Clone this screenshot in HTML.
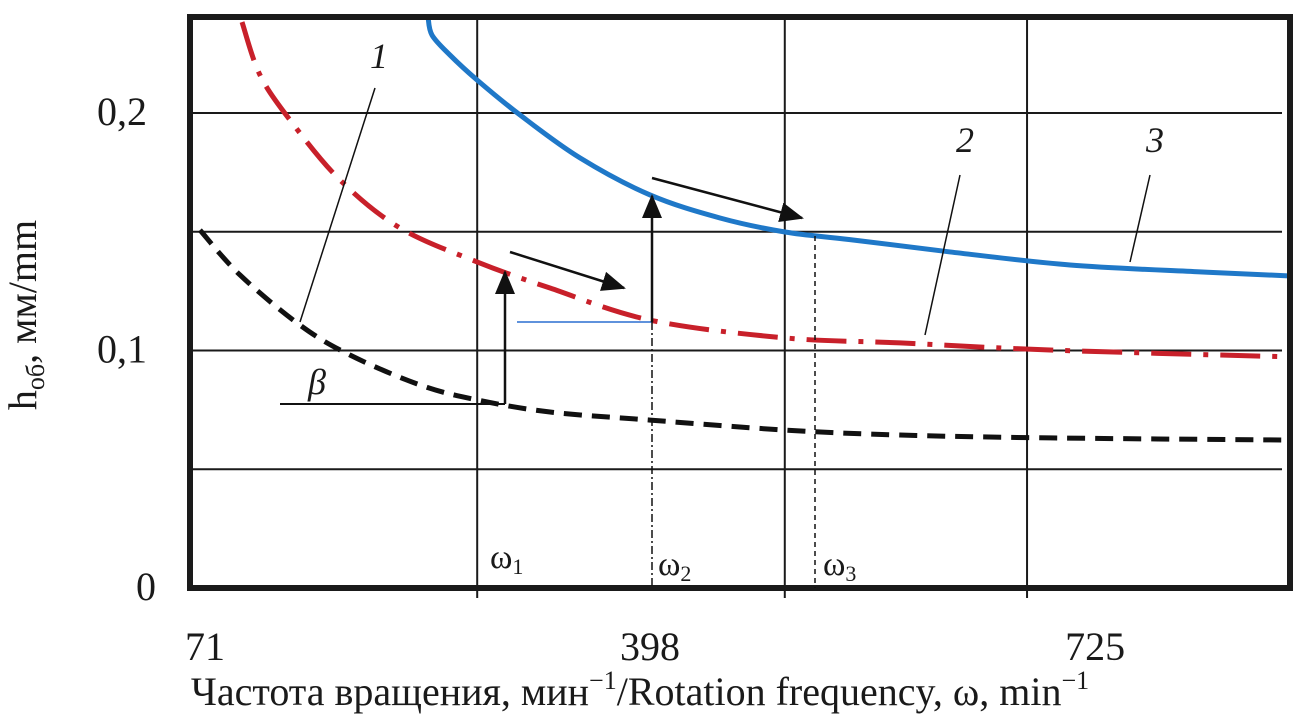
<!DOCTYPE html>
<html><head><meta charset="utf-8"><style>
body{margin:0;background:#fff}
svg text{font-family:"Liberation Serif",serif;fill:#1a1a1a}
</style></head><body>
<svg width="1311" height="717" viewBox="0 0 1311 717">
<defs><clipPath id="pa"><rect x="193" y="20" width="1095" height="565"/></clipPath>
<marker id="ah2" markerWidth="24" markerHeight="20" refX="22" refY="10" orient="auto" markerUnits="userSpaceOnUse" viewBox="0 0 24 20"><path d="M0,0 L24,10 L0,20 z" fill="#111"/></marker></defs>
<g id="grid"></g>
<g id="curves" clip-path="url(#pa)"></g>
<rect x="190" y="17" width="1100" height="571" fill="none" stroke="#1a1a1a" stroke-width="6"/>
<g stroke="#111" fill="none">
<line x1="280" y1="404" x2="505" y2="404" stroke-width="2"/>
<line x1="505" y1="404" x2="505" y2="272" stroke-width="2.5" marker-end="url(#ah2)"/>
<line x1="517" y1="322" x2="652" y2="322" stroke="#2a6fd0" stroke-width="1.5"/>
<line x1="652" y1="322" x2="652" y2="196" stroke-width="2.5" marker-end="url(#ah2)"/>
<line x1="510" y1="252" x2="624" y2="288" stroke-width="2.5" marker-end="url(#ah2)"/>
<line x1="652" y1="178" x2="802" y2="218" stroke-width="2.5" marker-end="url(#ah2)"/>
<line x1="652" y1="322" x2="652" y2="588" stroke-width="1.5" stroke-dasharray="8,3,2,3"/>
<line x1="815" y1="236" x2="815" y2="588" stroke-width="1.5" stroke-dasharray="5,4"/>
<line x1="375" y1="88" x2="300" y2="322" stroke-width="1.5"/>
<line x1="960" y1="175" x2="925" y2="335" stroke-width="1.5"/>
<line x1="1150" y1="175" x2="1130" y2="262" stroke-width="1.5"/>
</g>
<text x="370" y="68" font-size="36" font-style="italic">1</text>
<text x="956" y="152" font-size="36" font-style="italic">2</text>
<text x="1146" y="152" font-size="36" font-style="italic">3</text>
<text x="308" y="394" font-size="36" font-style="italic">β</text>
<text x="490" y="568" font-size="34">ω<tspan font-size="22" dy="6">1</tspan></text>
<text x="658" y="575" font-size="34">ω<tspan font-size="22" dy="6">2</tspan></text>
<text x="823" y="575" font-size="34">ω<tspan font-size="22" dy="6">3</tspan></text>
<g id="yt" font-size="40" text-anchor="end"></g>
<g id="xt" font-size="40" text-anchor="middle"></g>
<text transform="translate(36,315) rotate(-90)" font-size="40" text-anchor="middle">h<tspan font-size="26" dy="8">об</tspan><tspan dy="-8">, мм/mm</tspan></text>
<text x="640" y="705" font-size="40" text-anchor="middle">Частота вращения, мин<tspan font-size="26" dy="-16">−1</tspan><tspan dy="16">/Rotation frequency, ω, min</tspan><tspan font-size="26" dy="-16">−1</tspan></text>
</svg>
<script>
const c3W=[234.9,237.8,251,270.9,302.4,346.5,398,449.4,497.2,544.9,618.4,706.6,802,868.2];
const c3H=[0.2404,0.2328,0.2244,0.2139,0.1992,0.1811,0.1655,0.1558,0.1499,0.1467,0.1415,0.136,0.1331,0.1314];
const c2W=[98.2,111.4,133.5,170.2,214.3,270.9,324.5,398,497.2,581.7,691.9,868.2];
const c2H=[0.2383,0.216,0.197,0.1718,0.1516,0.1373,0.1263,0.1128,0.1053,0.1032,0.1002,0.0973];
const c1W=[67.3,96.7,140.8,177.5,229,270.9,324.5,398,497.2,581.7,691.9,868.2];
const c1H=[0.1507,0.1318,0.1107,0.0981,0.0855,0.0792,0.0741,0.0707,0.0665,0.0644,0.0632,0.0623];
const yTicks=[0,0.1,0.2];
const yTickLabels=["0","0,1","0,2"];
const yGrid=[0.05,0.1,0.15,0.2];
const xGridW=[271,497,675];
const xTickLabels=["71","398","725"];
const xTickW=[71,398,725];
const X=w=>205+(w-71)*1.361;
const Y=h=>588-h*2375;
const NS="http://www.w3.org/2000/svg";
function mk(t,a,p){const e=document.createElementNS(NS,t);for(const k in a)e.setAttribute(k,a[k]);p.appendChild(e);return e;}
const grid=document.getElementById('grid');
yGrid.forEach(h=>{const l=mk('line',{x1:190,x2:1282,y1:Y(h),y2:Y(h),stroke:'#1a1a1a','stroke-width':2},grid);

});
xGridW.forEach(w=>{const l=mk('line',{x1:X(w),x2:X(w),y1:17,y2:598,stroke:'#1a1a1a','stroke-width':2},grid);

});
const cv=document.getElementById('curves');
function path(W,H){const p=W.map((w,i)=>[X(w),Y(H[i])]);
let d='M'+p[0][0]+','+p[0][1];
for(let i=0;i<p.length-1;i++){const p0=p[i-1]||p[i],p1=p[i],p2=p[i+1],p3=p[i+2]||p2;
d+=' C'+(p1[0]+(p2[0]-p0[0])/6)+','+(p1[1]+(p2[1]-p0[1])/6)+' '+(p2[0]-(p3[0]-p1[0])/6)+','+(p2[1]-(p3[1]-p1[1])/6)+' '+p2[0]+','+p2[1];}
return d;}
let e=mk('path',{d:path(c1W,c1H),fill:'none',stroke:'#111','stroke-width':5,'stroke-dasharray':'18,10'},cv);


e=mk('path',{d:path(c2W,c2H),fill:'none',stroke:'#c8202a','stroke-width':5,'stroke-dasharray':'40,12,5,12'},cv);


e=mk('path',{d:path(c3W,c3H),fill:'none',stroke:'#1f78c8','stroke-width':5},cv);


const yt=document.getElementById('yt');
yTicks.forEach((h,i)=>{const t=mk('text',{x:h===0?156:147,y:Y(h)+12},yt);t.textContent=yTickLabels[i];

});
const xt=document.getElementById('xt');
xTickW.forEach((w,i)=>{const t=mk('text',{x:X(w),y:660},xt);t.textContent=xTickLabels[i];

});
</script>
</body></html>
